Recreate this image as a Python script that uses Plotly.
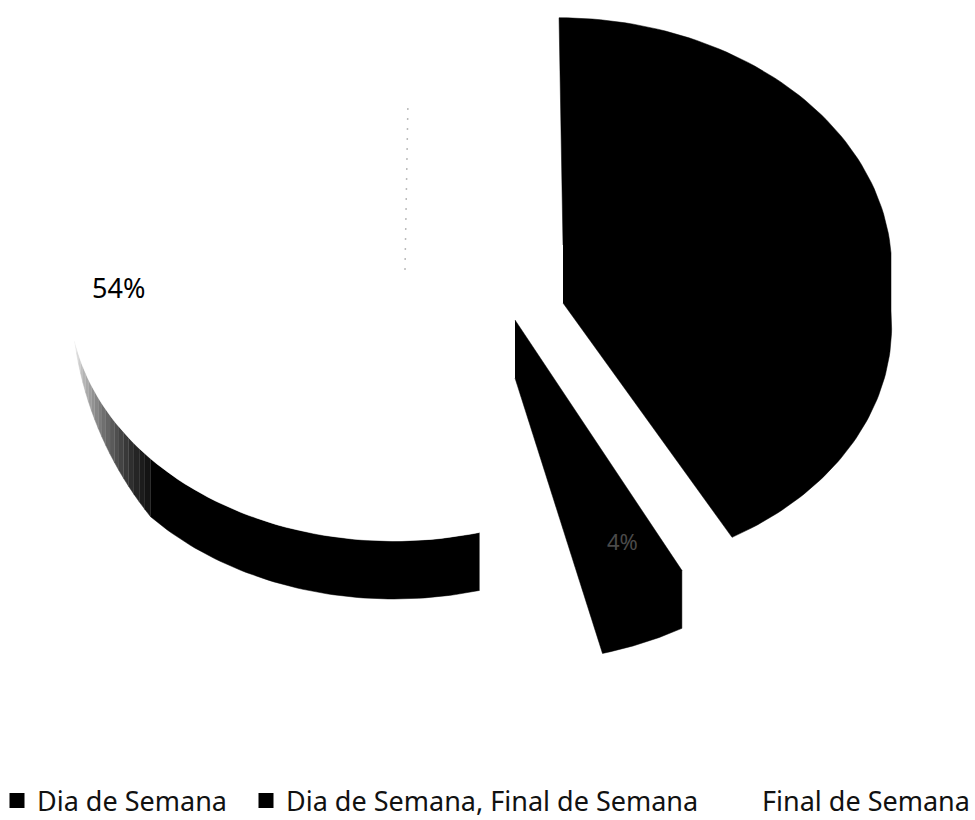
import numpy as np
import plotly.graph_objects as go

# ---- data ----
categories = ["Dia de Semana", "Dia de Semana, Final de Semana", "Final de Semana"]
shares = [42, 4, 54]
visible_labels = {"Dia de Semana, Final de Semana": "4%", "Final de Semana": "54%"}

# ---- projection / style (tilted, exploded 3-D pie) ----
W, H = 975, 820
RX, RY, PERSP, FACE_DY, DEPTH, VANISH_X = 328, 247, 0.05, 20, 58, 480
GEOM = {
    "Dia de Semana": dict(cx=563, cy=233, apex_dy=12),
    "Dia de Semana, Final de Semana": dict(cx=515, cy=324, apex_dy=-4),
    "Final de Semana": dict(cx=398, cy=261, apex_dy=0),
}
LEGEND_X = [-3, 246, 722]
LEGEND_COLORS = ["#000000", "#000000", "#ffffff"]


def arc(geom, deg):
    t = np.radians(deg)
    s = 1 / (1 + PERSP * np.cos(t))
    x = geom["cx"] + RX * np.sin(t) * s + (VANISH_X - geom["cx"]) * (1 - s)
    y = geom["cy"] + FACE_DY - RY * np.cos(t) * s
    return x, y


def poly(fig, x, y, color):
    fig.add_trace(go.Scatter(x=x, y=y, mode="lines", fill="toself", fillcolor=color,
                             line=dict(color=color, width=0.5), hoverinfo="skip", showlegend=False))


fig = go.Figure()
edges = np.concatenate([[0], np.cumsum(shares)]) * 3.6

# white slice: fading wall, then white top
g = GEOM["Final de Semana"]
a0, a1 = edges[2], edges[3]
fade_start, fade_end = 226, 256
bands = np.linspace(fade_start, fade_end, 21)
wall = np.linspace(a0, fade_start, 60)
x, y = arc(g, wall)
poly(fig, np.r_[x, x[::-1]], np.r_[y, y[::-1] + DEPTH], "#000000")
for i in range(len(bands) - 1):
    b = np.linspace(bands[i], bands[i + 1], 6)
    x, y = arc(g, b)
    d0 = DEPTH * np.clip((fade_end - b) / (fade_end - fade_start), 0, 1) ** 0.8
    v = int(20 + 210 * (i / (len(bands) - 2)) ** 1.1)
    poly(fig, np.r_[x, x[::-1]], np.r_[y, (y + d0)[::-1]], f"rgb({v},{v},{v})")
th = np.linspace(a0, a1, 120)
x, y = arc(g, th)
poly(fig, np.r_[g["cx"], x], np.r_[g["cy"] + g["apex_dy"], y], "#ffffff")

# dark slices, drawn as the silhouette of an extruded wedge
for i, name in enumerate(categories[:2]):
    g = GEOM[name]
    a0, a1 = edges[i], edges[i + 1]
    am = float(np.clip(90, a0, a1))
    xt, yt = arc(g, np.linspace(a0, am, 60))
    xb, yb = arc(g, np.linspace(am, a1, 60))
    apex_y = g["cy"] + g["apex_dy"]
    xs = np.r_[g["cx"], xt, xb, g["cx"]]
    ys = np.r_[apex_y, yt, yb + DEPTH, apex_y + DEPTH]
    poly(fig, xs, ys, "#000000")

# faint dotted seam of the white slice
g = GEOM["Final de Semana"]
fig.add_trace(go.Scatter(x=[g["cx"] + 7, g["cx"] + 10], y=[270, 100], mode="lines",
                         line=dict(color="#bbbbbb", width=1.5, dash="2px,8px"),
                         hoverinfo="skip", showlegend=False))

# legend entries
for i, name in enumerate(categories):
    fig.add_trace(go.Scatter(x=[None], y=[None], mode="markers", name=name,
                             marker=dict(symbol="square", size=15, color=LEGEND_COLORS[i]),
                             legend="legend" if i == 0 else f"legend{i + 1}"))

legend_style = dict(orientation="h", xanchor="left", yanchor="middle", y=(H - 801) / H,
                    font=dict(family="Noto Sans", size=27, color="#111111"),
                    bgcolor="rgba(0,0,0,0)", itemwidth=30)

fig.add_annotation(x=118, y=287, text=visible_labels["Final de Semana"], showarrow=False,
                   font=dict(family="Noto Sans", size=27, color="#000000"))
fig.add_annotation(x=622, y=541, text=visible_labels["Dia de Semana, Final de Semana"], showarrow=False,
                   font=dict(family="Noto Sans", size=22, color="#4a4a4a"))

fig.update_layout(
    width=W, height=H, margin=dict(l=0, r=0, t=0, b=0, autoexpand=False),
    paper_bgcolor="white", plot_bgcolor="white",
    xaxis=dict(visible=False, range=[0, W], fixedrange=True),
    yaxis=dict(visible=False, range=[H, 0], fixedrange=True),
    legend=dict(x=LEGEND_X[0] / W, **legend_style),
    legend2=dict(x=LEGEND_X[1] / W, **legend_style),
    legend3=dict(x=LEGEND_X[2] / W, **legend_style),
)
fig.write_html("out.html", config={"displayModeBar": False},
               post_script="document.body.style.margin='0';document.documentElement.style.overflow='hidden';")
